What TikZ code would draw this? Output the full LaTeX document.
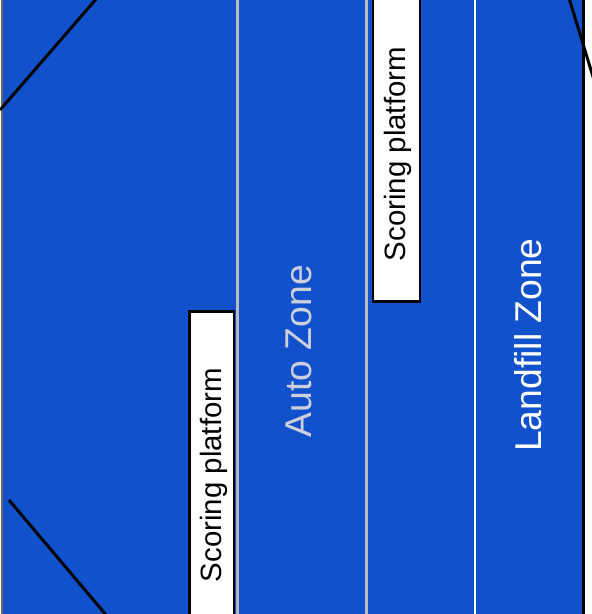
\documentclass[tikz,border=0pt]{standalone}
\usepackage{fontspec}
\setmainfont{Liberation Sans}
\usetikzlibrary{positioning}
\definecolor{feldblau}{RGB}{17,82,204}
\definecolor{liniengrau}{RGB}{185,185,192}
\definecolor{autograu}{RGB}{205,208,220}

\begin{document}
\begin{tikzpicture}[x=1pt, y=-1pt,
			platform/.style={draw=black, line width=2.5pt, fill=white},
			zonetext/.style={rotate=90, inner sep=0pt, font=\fontsize{37.3}{40}\selectfont},
			platformtext/.style={rotate=90, inner sep=0pt, font=\fontsize{29.4}{32}\selectfont}]
			%Bildbereich
			\useasboundingbox (0,0) rectangle (592,614);
			\clip (0,0) rectangle (592,614);
			\fill[white] (0,0) rectangle (592,614);
			% Spielfeld
			\fill[feldblau] (3,-10) rectangle (583,630);
			\draw[black!60, line width=2pt] (2,-10) -- (2,630);
			\draw[black, line width=2.5pt] (583.5,-10) -- (583.5,630);
			% Zonengrenzen
			\draw[liniengrau, line width=3pt] (237.5,-10) -- (237.5,630);
			\draw[liniengrau, line width=3pt] (366,-10) -- (366,630);
			\draw[white, line width=2.5pt] (475,-10) -- (475,630);
			% Ecken
			\draw[black, line width=3pt] (0,110) -- (97,-2);
			\draw[black, line width=3pt] (9,500) -- (107,616);
			\draw[black, line width=3pt] (569,-2) -- (594,80);
			% Plattformen
			\draw[platform] (189.5,311.5) rectangle (234,640);
			\draw[platform] (373,-20) rectangle (420,301.5);
			\node[platformtext] (platformlinks) at (214,475) {Scoring platform};
			\node[platformtext] (platformrechts) at (397.5,154) {Scoring platform};
			%Beschriftung
			\node[zonetext, text=autograu] (autozone) at (298.5,351) {Auto Zone};
			\node[zonetext, text=white] (landfillzone) at (528,345) {Landfill Zone};
		\end{tikzpicture}
\end{document}
